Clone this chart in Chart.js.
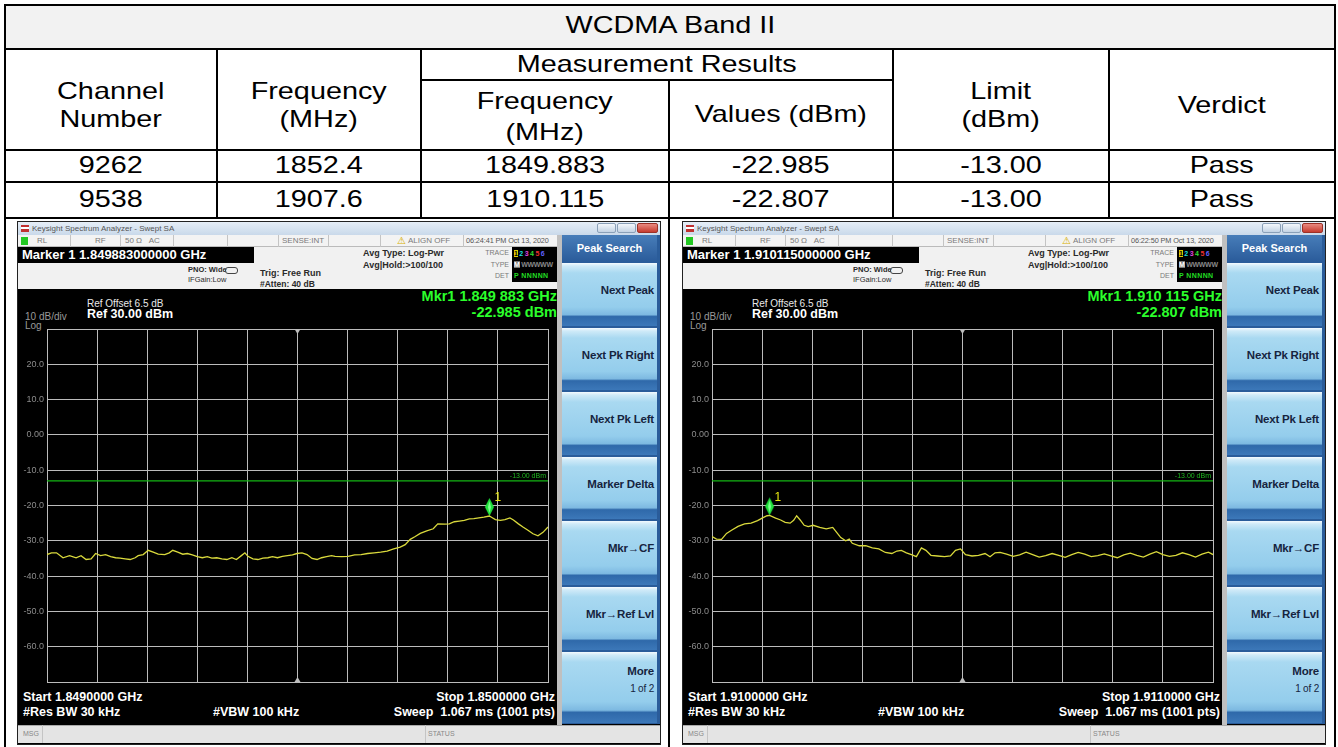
<!DOCTYPE html>
<html>
<head>
<meta charset="utf-8">
<script src="https://cdn.jsdelivr.net/npm/chart.js@4.4.1/dist/chart.umd.min.js"></script>
<style>
html, body { margin: 0; padding: 0; background: #fff; width: 1338px; height: 747px; overflow: hidden;
  font-family: Arial, "Liberation Sans", sans-serif; }
#tbl { position: absolute; left: 4px; top: 4px; width: 1330px; border-collapse: collapse; table-layout: fixed;
  font-size: 24px; color: #000; }
#tbl td { border: 2px solid #000; text-align: center; vertical-align: middle; padding: 0; line-height: 1.2; }
#tbl tr.title td { background: #f2f2f2; padding-bottom: 4px; }
#tbl td.rs { padding-top: 12px; }
#tbl td.sub { line-height: 1.3; padding-top: 2px; }
.sx { display: inline-block; transform: scaleX(1.2); }
.ab { position: absolute; white-space: nowrap; }
.screen { position: absolute; background: #000; border: 1px solid #222; box-sizing: border-box; }
.tbar { background: linear-gradient(#e6eef7, #c9d9ea); }
.wbtn { border: 1px solid #8aa0b8; border-radius: 2px; box-sizing: border-box;
  background: linear-gradient(#f4f8fc, #c3d3e4); }
.wbtn.close { background: linear-gradient(#e98a80, #c63c30); border-color: #9b3128; }
.sbar { background: #f3f3f3; border-bottom: 1px solid #bbb; box-sizing: border-box; }
.sep { background: #c4c4c4; width: 1px; }
.st { font-size: 8px; color: #7a7a7a; line-height: 12px; }
.info { background: #f1f1f1; }
.it { font-size: 8.5px; font-weight: bold; color: #2a2a2a; line-height: 10px; }
.btn { box-sizing: border-box; width: 95px;
  background: linear-gradient(to bottom, #f4fafe 0px, #cfeaf8 3px, #a9d9f1 10px, #94cdec 70%, #7db9e1 82%, #2f69aa 85%, #3c78b9 100%); }
.bt { font-size: 11.5px; font-weight: bold; color: #16243f; text-align: right; letter-spacing: -0.2px; }
.wh { color: #fff; font-weight: bold; font-size: 12.5px; }
.gr { color: #2bff2b; font-weight: bold; font-size: 14.5px; text-align: right; }
.tb { font-size: 7px; font-weight: bold; line-height: 10px; }
</style>
</head>
<body>

<table id="tbl">
  <colgroup>
    <col style="width:212px"><col style="width:204px"><col style="width:248px">
    <col style="width:224px"><col style="width:216px"><col style="width:226px">
  </colgroup>
  <tr class="title" style="height:44px"><td colspan="6"><span class="sx">WCDMA Band II</span></td></tr>
  <tr style="height:26px">
    <td rowspan="2" class="rs"><span class="sx">Channel<br>Number</span></td>
    <td rowspan="2" class="rs"><span class="sx">Frequency<br>(MHz)</span></td>
    <td colspan="2"><span class="sx">Measurement Results</span></td>
    <td rowspan="2" class="rs"><span class="sx">Limit<br>(dBm)</span></td>
    <td rowspan="2" class="rs"><span class="sx">Verdict</span></td>
  </tr>
  <tr style="height:70px"><td class="sub"><span class="sx">Frequency<br>(MHz)</span></td><td><span class="sx">Values (dBm)</span></td></tr>
  <tr id="row1" style="height:32px"></tr>
  <tr id="row2" style="height:36px"></tr>
  <tr style="height:540px"><td colspan="3"></td><td colspan="3"></td></tr>
</table>

<script>
// ---- table values ----
const channels   = ['9262', '9538'];
const chanFreq   = ['1852.4', '1907.6'];
const measFreq   = ['1849.883', '1910.115'];
const measValue  = ['-22.985', '-22.807'];
const limitText  = ['-13.00', '-13.00'];
const verdicts   = ['Pass', 'Pass'];

// ---- spectrum traces (x = kHz offset from start frequency, y = dBm) ----
const leftOffsetKHz = [0, 9, 19, 32, 45, 58, 68, 78, 88, 97, 107, 117, 127, 137, 146, 156, 166, 176, 182, 192,
  202, 212, 222, 235, 244, 251, 261, 271, 280, 290, 300, 310, 320, 329, 339, 349, 359, 369, 378, 388,
  395, 401, 411, 421, 431, 441, 450, 460, 470, 480, 490, 499, 509, 519, 529, 539, 548, 558, 568, 575,
  588, 601, 614, 627, 640, 653, 666, 679, 692, 705, 715, 725, 735, 745, 758, 771, 780, 794, 803, 813,
  823, 833, 843, 852, 862, 872, 883, 888, 895, 905, 914, 924, 931, 941, 950, 960, 970, 980, 990, 1000];
const leftLevel = [-33.9, -33.4, -33.4, -34.8, -34.2, -34.8, -34.2, -35.3, -35.1, -33.6, -34.2, -33.9, -34.5, -34.8, -34.9, -35.1, -35.3, -34.8, -34.2, -33.9,
  -32.7, -33.2, -33.8, -33.9, -33.4, -32.7, -33.2, -33.8, -33.6, -34.0, -34.5, -34.8, -34.5, -34.9, -34.8, -35.1, -35.3, -34.8, -35.3, -34.2,
  -33.4, -34.4, -35.1, -35.3, -34.9, -34.8, -34.5, -34.8, -34.4, -34.2, -34.0, -33.6, -33.4, -33.9, -35.0, -35.3, -34.8, -34.5, -34.2, -34.4,
  -34.5, -34.4, -34.0, -33.9, -33.6, -33.4, -33.2, -32.9, -32.3, -31.8, -31.1, -29.6, -28.8, -27.9, -27.2, -26.6, -25.2, -25.3, -25.2, -24.6,
  -24.4, -24.2, -23.8, -23.7, -23.5, -23.3, -22.985, -23.4, -24.0, -24.2, -24.0, -23.5, -24.1, -25.2, -26.1, -27.0, -28.0, -28.6, -27.6, -26.1];

const rightOffsetKHz = [0, 9, 19, 29, 39, 52, 65, 78, 91, 101, 110, 115, 127, 137, 146, 156, 163, 169, 176, 184,
  192, 202, 215, 228, 241, 248, 257, 267, 274, 280, 294, 307, 320, 333, 346, 359, 369, 378, 388, 398,
  408, 418, 427, 437, 450, 464, 476, 486, 496, 506, 519, 532, 545, 555, 565, 575, 588, 601, 614, 627,
  640, 653, 666, 679, 692, 705, 718, 731, 744, 757, 770, 783, 796, 809, 822, 835, 848, 861, 874, 887,
  900, 913, 926, 939, 952, 965, 978, 991, 1000];
const rightLevel = [-28.8, -29.5, -29.6, -27.9, -27.0, -25.9, -25.2, -25.0, -24.3, -23.5, -22.9, -22.807, -23.6, -24.1, -24.8, -25.0, -24.2, -22.9, -24.1, -25.6,
  -26.0, -25.6, -26.2, -26.6, -26.2, -27.5, -29.1, -30.0, -29.5, -30.7, -31.4, -31.4, -32.0, -32.3, -33.3, -33.6, -32.9, -32.7, -33.4, -33.9,
  -34.5, -32.0, -32.7, -34.1, -34.3, -34.5, -34.3, -32.7, -32.3, -33.9, -34.3, -34.1, -33.6, -34.5, -33.4, -33.3, -33.8, -34.4, -34.0, -33.2,
  -33.9, -34.6, -34.2, -33.6, -34.1, -34.7, -33.9, -33.3, -33.8, -34.5, -34.2, -33.7, -34.3, -34.8, -34.0, -33.5, -34.1, -34.6, -33.8, -33.1,
  -33.9, -34.4, -34.1, -33.4, -33.9, -34.6, -33.8, -33.2, -33.9];

const levelTicks = [30, 20, 10, 0, -10, -20, -30, -40, -50, -60, -70];
const limitDbm = -13;
const peakOffsetKHz = [883, 115];
const peakLevel = [-22.985, -22.807];

const screenText = [
  { marker: 'Marker 1 1.849883000000 GHz', time: '06:24:41 PM Oct 13, 2020', mkrF: 'Mkr1 1.849 883 GHz', mkrL: '-22.985 dBm',
    start: 'Start 1.8490000 GHz', stop: 'Stop 1.8500000 GHz' },
  { marker: 'Marker 1 1.910115000000 GHz', time: '06:22:50 PM Oct 13, 2020', mkrF: 'Mkr1 1.910 115 GHz', mkrL: '-22.807 dBm',
    start: 'Start 1.9100000 GHz', stop: 'Stop 1.9110000 GHz' }
];
const softKeys = ['Next Peak', 'Next Pk Right', 'Next Pk Left', 'Marker Delta', 'Mkr\u2192CF', 'Mkr\u2192Ref Lvl', 'More'];

// fill table data rows
['row1', 'row2'].forEach((id, i) => {
  const tr = document.getElementById(id);
  [channels[i], chanFreq[i], measFreq[i], measValue[i], limitText[i], verdicts[i]].forEach(t => {
    const td = document.createElement('td');
    const sp = document.createElement('span'); sp.className = 'sx'; sp.textContent = t;
    td.appendChild(sp); tr.appendChild(td);
  });
});

function el(parent, cls, x, y, w, h, text, css) {
  const d = document.createElement('div');
  d.className = 'ab ' + (cls || '');
  d.style.left = x + 'px'; d.style.top = y + 'px';
  if (w != null) d.style.width = w + 'px';
  if (h != null) d.style.height = h + 'px';
  if (text != null) d.textContent = text;
  if (css) Object.assign(d.style, css);
  parent.appendChild(d);
  return d;
}

function diamondImage() {
  const c = document.createElement('canvas');
  c.width = 11; c.height = 38;
  const g = c.getContext('2d');
  g.fillStyle = '#1fe03a';
  g.beginPath(); g.moveTo(5.5, 1); g.lineTo(10, 10); g.lineTo(5.5, 19); g.lineTo(1, 10); g.closePath(); g.fill();
  g.fillStyle = '#7dff8e';
  g.beginPath(); g.moveTo(5.5, 4); g.lineTo(7, 10); g.lineTo(5.5, 16); g.lineTo(4, 10); g.closePath(); g.fill();
  return c;
}

const overlayPlugin = {
  id: 'overlay',
  afterDatasetsDraw(chart, args, o) {
    const { ctx, scales: { x, y } } = chart;
    ctx.save();
    ctx.font = '7px Arial';
    ctx.fillStyle = '#1fb81f';
    ctx.textAlign = 'right'; ctx.textBaseline = 'bottom';
    ctx.fillText('-13.00 dBm', x.right - 2, y.getPixelForValue(limitDbm) - 1);
    const px = x.getPixelForValue(o.peakX), py = y.getPixelForValue(o.peakY);
    ctx.font = '12px Arial';
    ctx.fillStyle = '#eaea10';
    ctx.textAlign = 'left'; ctx.textBaseline = 'middle';
    ctx.fillText('1', px + 5, py - 18);
    // centre-frequency marks
    const cx = x.getPixelForValue(500);
    ctx.fillStyle = '#bdbdbd';
    ctx.beginPath(); ctx.moveTo(cx - 3, y.top); ctx.lineTo(cx + 3, y.top); ctx.lineTo(cx, y.top + 5); ctx.fill();
    ctx.beginPath(); ctx.moveTo(cx - 3, y.bottom); ctx.lineTo(cx + 3, y.bottom); ctx.lineTo(cx, y.bottom - 5); ctx.fill();
    ctx.restore();
  }
};

function buildScreen(idx, ox, oy, offsets, levels) {
  const t = screenText[idx];
  const body = document.body;
  const scr = el(body, 'screen', ox, oy, 644, 524);
  const P = (rx, ry, w, h, text, cls, css) => el(scr, cls, rx - 1, ry - 1, w, h, text, css);

  // title bar
  P(1, 1, 642, 13, null, 'tbar');
  P(4, 4, 8, 7, null, '', { background: 'linear-gradient(#c03030 0 30%, #fff 30% 50%, #c03030 50% 100%)' });
  P(15, 1, null, 13, 'Keysight Spectrum Analyzer - Swept SA', '', { fontSize: '8px', color: '#555', lineHeight: '13px' });
  P(580, 2, 19, 10, null, 'wbtn'); P(600, 2, 19, 10, null, 'wbtn'); P(620, 2, 21, 10, null, 'wbtn close');

  // status bar
  P(1, 14, 542, 12, null, 'sbar');
  [53, 103, 156, 210, 261, 311, 363, 446].forEach(sx => P(sx, 14, null, 12, null, 'sep'));
  P(4, 16, 7, 8, null, '', { background: '#22c722' });
  P(20, 14, null, null, 'RL', 'st');
  P(78, 14, null, null, 'RF', 'st');
  P(108, 14, null, null, '50 \u03A9   AC', 'st', { whiteSpace: 'pre' });
  P(265, 14, null, null, 'SENSE:INT', 'st');
  P(380, 14, null, null, '\u26A0', 'st', { color: '#d8b000', fontSize: '10px' });
  P(391, 14, null, null, 'ALIGN OFF', 'st');
  P(449, 14, null, null, t.time, 'st', { color: '#555', fontSize: '7.3px', letterSpacing: '-0.1px' });

  // info area + marker box
  P(1, 26, 542, 42, null, 'info');
  P(1, 26, 236, 16, null, '', { background: '#000' });
  P(5, 26, null, 16, t.marker, 'wh', { fontSize: '13px', lineHeight: '16px' });
  P(171, 44, null, null, 'PNO: Wide', 'it', { fontSize: '7.5px' });
  P(171, 54, null, null, 'IFGain:Low', 'it', { fontSize: '7.5px', fontWeight: 'normal' });
  P(208, 46, 13, 7, null, '', { border: '1px solid #444', borderRadius: '3px', boxSizing: 'border-box' });
  P(243, 47, null, null, 'Trig: Free Run', 'it', { fontSize: '9px' });
  P(243, 58, null, null, '#Atten: 40 dB', 'it');
  P(346, 27, null, null, 'Avg Type: Log-Pwr', 'it', { fontSize: '9px' });
  P(346, 39, null, null, 'Avg|Hold:>100/100', 'it', { fontSize: '9px' });
  P(455, 27, 37, null, 'TRACE', 'st', { fontSize: '7px', textAlign: 'right', lineHeight: '10px' });
  P(455, 39, 37, null, 'TYPE', 'st', { fontSize: '7px', textAlign: 'right', lineHeight: '10px' });
  P(455, 50, 37, null, 'DET', 'st', { fontSize: '7px', textAlign: 'right', lineHeight: '10px' });
  P(495, 26, 46, 35, null, '', { background: '#000' });
  const tr = P(497, 28, null, null, '', 'tb', { wordSpacing: '-0.5px' });
  tr.innerHTML = '<span style="background:#e0d000;color:#000">1</span> <span style="color:#18e0e0">2</span> ' +
    '<span style="color:#e040e0">3</span> <span style="color:#30e030">4</span> <span style="color:#f03030">5</span> ' +
    '<span style="color:#6060ff">6</span>';
  const ty = P(497, 39, null, null, '', 'tb', { letterSpacing: '-0.3px' });
  ty.innerHTML = '<span style="background:#777;color:#fff">M</span> <span style="color:#888">WWWWW</span>';
  P(497, 50, null, null, 'P NNNNN', 'tb', { color: '#22dd22', letterSpacing: '0.4px' });

  // soft key panel
  P(540, 14, 5, 490, null, '', { background: '#c0c0c0' });
  P(545, 14, 98, 489, null, '', { background: '#2a5c9a' });
  P(545, 14, 95, 27, 'Peak Search', '', { background: 'linear-gradient(#477db9, #2a5b9a)', color: '#fff',
    fontWeight: 'bold', fontSize: '11px', lineHeight: '27px', textAlign: 'center' });
  const tops = [42, 107, 171, 236, 300, 366, 431];
  const hts = [63, 62, 63, 62, 64, 63, 71];
  softKeys.forEach((k, i) => {
    P(545, tops[i], 95, hts[i], null, 'btn');
    if (i < 6) {
      P(545, tops[i] + 21, 92, null, k, 'bt');
    } else {
      P(545, tops[i] + 13, 92, null, k, 'bt');
      P(545, tops[i] + 31, 92, null, '1 of 2', 'bt', { fontWeight: 'normal', fontSize: '10px' });
    }
  });

  // readouts on black
  P(70, 77, null, null, 'Ref Offset 6.5 dB', '', { color: '#e8e8e8', fontSize: '10px' });
  P(70, 86, null, null, 'Ref 30.00 dBm', 'wh', { fontSize: '12.5px' });
  P(8, 90, null, null, '10 dB/div', '', { color: '#9a9a9a', fontSize: '10px' });
  P(8, 99, null, null, 'Log', '', { color: '#9a9a9a', fontSize: '10px' });
  P(300, 67, 240, null, t.mkrF, 'gr');
  P(300, 83, 240, null, t.mkrL, 'gr');
  P(6, 469, null, null, t.start, 'wh');
  P(6, 484, null, null, '#Res BW 30 kHz', 'wh');
  P(196, 484, null, null, '#VBW 100 kHz', 'wh');
  P(300, 469, 238, null, t.stop, 'wh', { textAlign: 'right' });
  P(300, 484, 238, null, 'Sweep  1.067 ms (1001 pts)', 'wh', { textAlign: 'right', whiteSpace: 'pre' });

  // message bar
  P(1, 504, 642, 18, null, '', { background: '#e4e4e4', borderTop: '1px solid #aaa', boxSizing: 'border-box' });
  P(6, 504, null, 18, 'MSG', '', { fontSize: '7px', color: '#888', lineHeight: '18px' });
  P(25, 504, null, 18, null, 'sep');
  P(408, 504, null, 18, null, 'sep');
  P(411, 504, null, 18, 'STATUS', '', { fontSize: '7px', color: '#888', lineHeight: '18px' });

  // plot canvas
  const cv = document.createElement('canvas');
  cv.width = 541; cv.height = 375;
  cv.style.position = 'absolute'; cv.style.left = '0px'; cv.style.top = '96px';
  scr.appendChild(cv);

  const trace = offsets.map((k, i) => ({ x: k, y: levels[i] }));
  new Chart(cv.getContext('2d'), {
    type: 'line',
    data: {
      datasets: [
        { data: trace, borderColor: '#d9d93c', borderWidth: 1.3, pointRadius: 0, tension: 0 },
        { data: [{ x: 0, y: limitDbm }, { x: 1000, y: limitDbm }], borderColor: '#15b515', borderWidth: 1.3, pointRadius: 0 },
        { data: [{ x: peakOffsetKHz[idx], y: peakLevel[idx] }], showLine: false, pointStyle: diamondImage(), pointRadius: 10 }
      ]
    },
    options: {
      responsive: false, animation: false, events: [],
      layout: { padding: { top: 9, right: 2, bottom: 4, left: 0 } },
      plugins: { legend: { display: false }, tooltip: { enabled: false },
        overlay: { peakX: peakOffsetKHz[idx], peakY: peakLevel[idx] } },
      scales: {
        x: { type: 'linear', min: 0, max: 1000,
          ticks: { display: false, stepSize: 100 },
          grid: { color: '#bcbcbc', lineWidth: 1, drawTicks: false },
          border: { color: '#bcbcbc' },
          afterFit(s) { s.height = 0; } },
        y: { type: 'linear', min: -70, max: 30,
          afterBuildTicks(s) { s.ticks = levelTicks.map(v => ({ value: v })); },
          ticks: { color: '#8c8c8c', font: { size: 9, family: 'Arial' }, padding: 3,
            callback: v => (v === 30 || v === -70) ? '' : (v === 0 ? '0.00' : v.toFixed(1)) },
          grid: { color: '#bcbcbc', lineWidth: 1, drawTicks: false },
          border: { color: '#bcbcbc' },
          afterFit(s) { s.width = 29; } }
      }
    },
    plugins: [overlayPlugin]
  });
}

buildScreen(0, 17, 221, leftOffsetKHz, leftLevel);
buildScreen(1, 682, 221, rightOffsetKHz, rightLevel);
</script>
</body>
</html>
